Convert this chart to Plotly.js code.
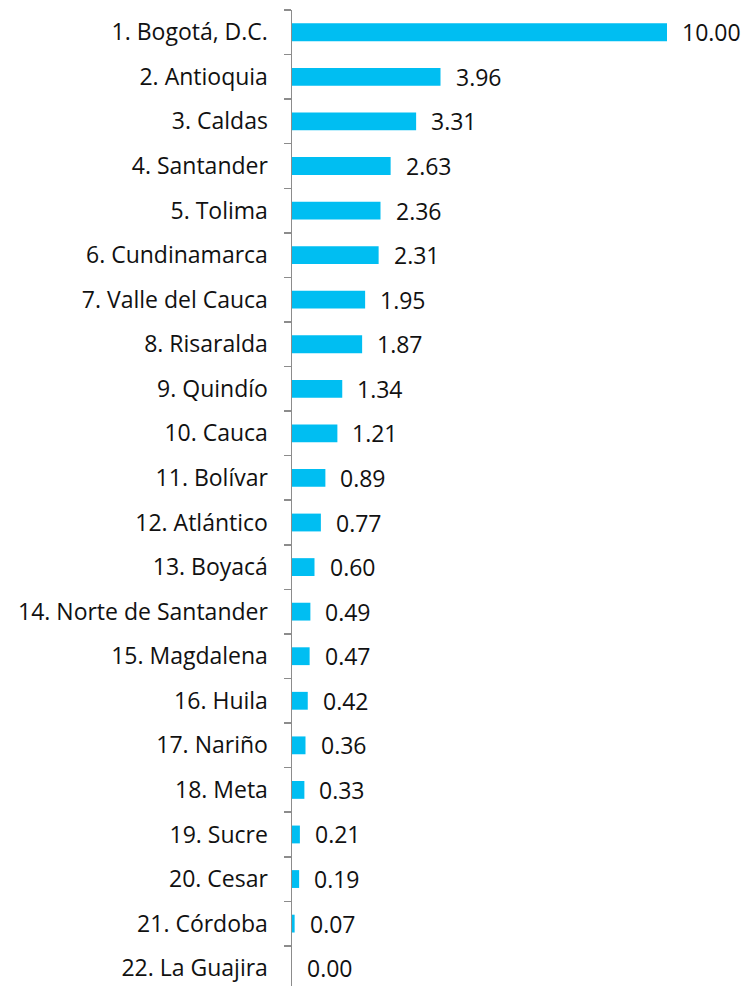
<!DOCTYPE html>
<html>
<head>
<meta charset="utf-8">
<script src="https://cdn.plot.ly/plotly-3.0.1.min.js"></script>
<style>html,body{margin:0;padding:0;background:#fff;}#chart{width:745px;height:986px;}</style>
</head>
<body>
<div id="chart"></div>
<script>
const categories = ["1. Bogotá, D.C.","2. Antioquia","3. Caldas","4. Santander","5. Tolima","6. Cundinamarca","7. Valle del Cauca","8. Risaralda","9. Quindío","10. Cauca","11. Bolívar","12. Atlántico","13. Boyacá","14. Norte de Santander","15. Magdalena","16. Huila","17. Nariño","18. Meta","19. Sucre","20. Cesar","21. Córdoba","22. La Guajira"];
const values = [10.00,3.96,3.31,2.63,2.36,2.31,1.95,1.87,1.34,1.21,0.89,0.77,0.60,0.49,0.47,0.42,0.36,0.33,0.21,0.19,0.07,0.00];
const valueLabels = values.map(v => v.toFixed(2));

const FONT = "'Open Sans', 'Noto Sans', sans-serif";

const trace = {
  type: "bar",
  orientation: "h",
  x: values,
  y: categories,
  marker: {color: "#00BEF2"},
  width: 0.4,
  hoverinfo: "none"
};

const annotations = values.map((v, i) => ({
  x: v, y: categories[i], xref: "x", yref: "y",
  text: valueLabels[i], showarrow: false,
  xanchor: "left", yanchor: "middle", xshift: 13,
  font: {family: FONT, size: 23, color: "#111111"}
}));

const layout = {
  width: 745, height: 986,
  margin: {l: 292, r: 78, t: 10, b: 0, pad: 0},
  paper_bgcolor: "#fff", plot_bgcolor: "#fff",
  showlegend: false,
  xaxis: {range: [0, 10], visible: false, showgrid: false, zeroline: false, fixedrange: true},
  yaxis: {
    type: "category",
    categoryorder: "array", categoryarray: categories,
    range: [21.4, -0.5],
    showline: true, linecolor: "#8c8c8c", linewidth: 1.5,
    ticks: "outside", tickson: "boundaries", ticklen: 7, tickcolor: "#8c8c8c", tickwidth: 1.5,
    ticklabelstandoff: 18,
    showgrid: false, zeroline: false,
    tickfont: {family: FONT, size: 23, color: "#111111"}
  },
  annotations: annotations
};

Plotly.newPlot("chart", [trace], layout, {staticPlot: true, displayModeBar: false});
</script>
</body>
</html>
